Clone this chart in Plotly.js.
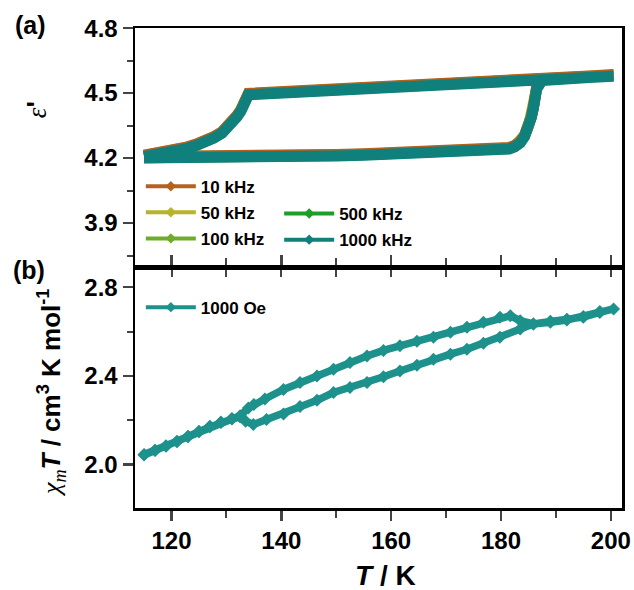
<!DOCTYPE html>
<html><head><meta charset="utf-8">
<script src="https://cdn.plot.ly/plotly-3.0.1.min.js"></script>
<style>html,body{margin:0;padding:0;background:#fff;}</style>
</head><body><div id="chart" style="width:634px;height:590px;"></div>
<script>
// ---- panel (a): dielectric constant loop (heating then cooling) ----
const T_eps = [115,118,121,124,127,130,133,136,140,145,150,155,160,165,170,175,178,180,181.5,182.5,183.5,184.3,185,185.5,185.9,186.2,186.5,187.5,190,193,196,199,200.5,
  197,193,189,185,180,175,170,165,160,155,150,145,140,137,135,134,133.6,133.2,132.6,131.9,131.3,130.3,129.2,127.7,126.2,124.5,122.9,121,119,117,115];
const eps10 = [4.207,4.207,4.207,4.208,4.208,4.209,4.210,4.211,4.212,4.214,4.217,4.220,4.224,4.228,4.233,4.237,4.240,4.243,4.249,4.259,4.277,4.307,4.347,4.392,4.437,4.482,4.527,4.565,4.572,4.576,4.579,4.583,4.585,
  4.580,4.576,4.571,4.566,4.560,4.554,4.548,4.542,4.536,4.531,4.525,4.519,4.513,4.507,4.503,4.499,4.477,4.447,4.422,4.397,4.376,4.347,4.322,4.299,4.279,4.265,4.252,4.241,4.229,4.220,4.214];
const eps50 = [4.205,4.205,4.205,4.206,4.206,4.207,4.208,4.209,4.210,4.212,4.215,4.218,4.222,4.226,4.231,4.235,4.238,4.241,4.247,4.257,4.275,4.305,4.345,4.390,4.435,4.480,4.525,4.563,4.570,4.574,4.577,4.581,4.583,
  4.578,4.574,4.569,4.564,4.558,4.552,4.546,4.540,4.534,4.529,4.523,4.517,4.511,4.505,4.501,4.497,4.475,4.445,4.420,4.395,4.374,4.345,4.320,4.297,4.277,4.263,4.250,4.239,4.227,4.218,4.212];
const eps100 = [4.204,4.204,4.204,4.205,4.205,4.206,4.207,4.208,4.209,4.211,4.214,4.217,4.221,4.225,4.230,4.234,4.237,4.240,4.246,4.256,4.274,4.304,4.344,4.389,4.434,4.479,4.524,4.562,4.569,4.573,4.576,4.580,4.582,
  4.577,4.573,4.568,4.563,4.557,4.551,4.545,4.539,4.533,4.528,4.522,4.516,4.510,4.504,4.500,4.496,4.474,4.444,4.419,4.394,4.373,4.344,4.319,4.296,4.276,4.262,4.249,4.238,4.226,4.217,4.211];
const eps500 = [4.202,4.202,4.202,4.203,4.203,4.204,4.205,4.206,4.207,4.209,4.212,4.215,4.219,4.223,4.228,4.232,4.235,4.238,4.244,4.254,4.272,4.302,4.342,4.387,4.432,4.477,4.522,4.560,4.567,4.571,4.574,4.578,4.580,
  4.575,4.571,4.566,4.561,4.555,4.549,4.543,4.537,4.531,4.526,4.520,4.514,4.508,4.502,4.498,4.494,4.472,4.442,4.417,4.392,4.371,4.342,4.317,4.294,4.274,4.260,4.247,4.236,4.224,4.215,4.209];
const eps1000 = [4.200,4.200,4.200,4.201,4.201,4.202,4.203,4.204,4.205,4.207,4.210,4.213,4.217,4.221,4.226,4.230,4.233,4.236,4.242,4.252,4.270,4.300,4.340,4.385,4.430,4.475,4.520,4.558,4.565,4.569,4.572,4.576,4.578,
  4.573,4.569,4.564,4.559,4.553,4.547,4.541,4.535,4.529,4.524,4.518,4.512,4.506,4.500,4.496,4.492,4.470,4.440,4.415,4.390,4.369,4.340,4.315,4.292,4.272,4.258,4.245,4.234,4.222,4.213,4.207];
const freqNames = ['10 kHz','50 kHz','100 kHz','500 kHz','1000 kHz'];
const freqColors = ['#b3621f','#b9b22b','#70ab2b','#1f9e27','#10807d'];

// ---- panel (b): chi_m T loop ----
const T_chi = [115,117,119,121,123,125,127,129,131,132.5,134,135,137,140.4,143.4,146.5,149.5,152.5,155.6,158.6,161.6,164.7,167.7,170.8,173.8,176.8,179.8,181.7,183.5,185.9,189,192,195,198,200.5,
  198,195,192,189,185.9,183.5,179.8,176.8,173.8,170.8,167.7,164.7,161.6,158.6,155.6,152.5,149.5,146.5,143.4,140.4,137.3,134.9,133.5,132.5,131,129,127,125,123,121,119,117,115];
const chiT = [2.045,2.065,2.085,2.105,2.128,2.150,2.173,2.192,2.208,2.220,2.255,2.271,2.296,2.339,2.370,2.400,2.430,2.460,2.490,2.515,2.536,2.556,2.574,2.597,2.619,2.642,2.664,2.671,2.649,2.634,2.646,2.655,2.665,2.686,2.702,
  2.690,2.668,2.652,2.642,2.634,2.611,2.574,2.547,2.520,2.498,2.475,2.448,2.422,2.396,2.370,2.348,2.325,2.290,2.262,2.228,2.203,2.181,2.195,2.215,2.205,2.190,2.170,2.148,2.125,2.103,2.083,2.063,2.043];
const fieldName = '1000 Oe';
const chiColor = '#1d918b';

const xRange = [113.35, 202.04];
const epsRange = [3.697, 4.8005];
const chiRange = [1.804, 2.891];

const FONT = 'Liberation Sans, Arial, sans-serif';
const epsSeries = [eps10, eps50, eps100, eps500, eps1000];
const drawOrder = [3, 2, 1, 0, 4];
const traces = [];
drawOrder.forEach(i => {
  traces.push({x: T_eps, y: epsSeries[i], type: 'scatter', mode: 'lines', xaxis: 'x', yaxis: 'y',
    line: {color: freqColors[i], width: 11}, showlegend: false, hoverinfo: 'skip'});
});
traces.push({x: T_chi, y: chiT, type: 'scatter', mode: 'lines+markers', xaxis: 'x2', yaxis: 'y2',
  line: {color: chiColor, width: 7.5}, marker: {symbol: 'diamond', size: 10, color: chiColor}, showlegend: false});
// legend entries
freqNames.forEach((n, i) => {
  traces.push({x: [null], y: [null], type: 'scatter', mode: 'lines+markers', name: n, xaxis: 'x', yaxis: 'y',
    legend: i < 3 ? 'legend' : 'legend2', legendgroup: 'g' + i,
    line: {color: freqColors[i], width: 4}, marker: {symbol: 'diamond', size: 8, color: freqColors[i]}});
});
traces.push({x: [null], y: [null], type: 'scatter', mode: 'lines+markers', name: fieldName, xaxis: 'x2', yaxis: 'y2',
  legend: 'legend3', line: {color: chiColor, width: 4}, marker: {symbol: 'diamond', size: 8, color: chiColor}});

const axLine = {showline: true, linecolor: '#000', linewidth: 2.5, showgrid: false, zeroline: false};
const legendBase = {xanchor: 'left', yanchor: 'top', bgcolor: 'rgba(0,0,0,0)', itemwidth: 50, tracegroupgap: 1,
  font: {family: FONT, size: 17, color: '#000', weight: 'bold'}};

const layout = {
  width: 634, height: 590,
  margin: {l: 135, r: 12, t: 28, b: 82},
  paper_bgcolor: '#fff', plot_bgcolor: '#fff',
  font: {family: FONT, color: '#000'},
  xaxis: Object.assign({}, axLine, {domain: [0, 1], anchor: 'y', range: xRange, mirror: true,
    ticks: 'outside', ticklen: 7, tickwidth: 2, tick0: 0, dtick: 10, showticklabels: false}),
  yaxis: Object.assign({}, axLine, {domain: [0.502, 1], anchor: 'x', range: epsRange, mirror: true,
    ticks: 'outside', ticklen: 10, tickwidth: 2.5, tick0: 3.9, dtick: 0.3, tickformat: '.1f',
    minor: {dtick: 0.15, tick0: 3.9, ticks: 'outside', ticklen: 6, tickwidth: 2},
    tickfont: {family: FONT, size: 24, weight: 'bold', color: '#000'}}),
  xaxis2: Object.assign({}, axLine, {domain: [0, 1], anchor: 'y2', range: xRange, mirror: 'ticks',
    ticks: 'outside', ticklen: 10, tickwidth: 2.5, tick0: 0, dtick: 20,
    minor: {dtick: 10, tick0: 0, ticks: 'outside', ticklen: 7, tickwidth: 2},
    tickfont: {family: FONT, size: 24, weight: 'bold', color: '#000'}}),
  yaxis2: Object.assign({}, axLine, {domain: [0, 0.502], anchor: 'x2', range: chiRange, mirror: true,
    ticks: 'outside', ticklen: 10, tickwidth: 2.5, tick0: 2.0, dtick: 0.4, tickformat: '.1f',
    minor: {dtick: 0.2, tick0: 2.0, ticks: 'outside', ticklen: 6, tickwidth: 2},
    tickfont: {family: FONT, size: 24, weight: 'bold', color: '#000'}}),
  legend: Object.assign({}, legendBase, {x: 0.012, y: 0.707}),
  legend2: Object.assign({}, legendBase, {x: 0.296, y: 0.650}),
  legend3: Object.assign({}, legendBase, {x: 0.012, y: 0.455}),
  annotations: [
    {text: '<b>(a)</b>', xref: 'paper', yref: 'paper', x: -0.2136, y: 1.006, xanchor: 'center', yanchor: 'middle', showarrow: false,
      font: {family: FONT, size: 25, color: '#000'}},
    {text: '<b>(b)</b>', xref: 'paper', yref: 'paper', x: -0.2177, y: 0.496, xanchor: 'center', yanchor: 'middle', showarrow: false,
      font: {family: FONT, size: 25, color: '#000'}},
    {text: "<span style=\"font-family:'Liberation Serif'\"><i>ε</i></span><b>'</b>", xref: 'paper', yref: 'paper', x: -0.201, y: 0.829,
      xanchor: 'center', yanchor: 'middle', textangle: -90, showarrow: false, font: {family: FONT, size: 27, color: '#000'}},
    {text: "<span style=\"font-family:'Liberation Serif'\"><i>χ<sub>m</sub></i></span><b><i>T</i> / cm<sup>3</sup> K mol<sup>-1</sup></b>",
      xref: 'paper', yref: 'paper', x: -0.172, y: 0.240, xanchor: 'center', yanchor: 'middle', textangle: -90, showarrow: false,
      font: {family: FONT, size: 26, color: '#000'}},
    {text: '<b><i>T</i> / K</b>', xref: 'paper', yref: 'paper', x: 0.515, y: -0.1396, xanchor: 'center', yanchor: 'middle', showarrow: false,
      font: {family: FONT, size: 28, color: '#000'}}
  ]
};

Plotly.newPlot('chart', traces, layout, {displayModeBar: false, staticPlot: true});
</script></body></html>
